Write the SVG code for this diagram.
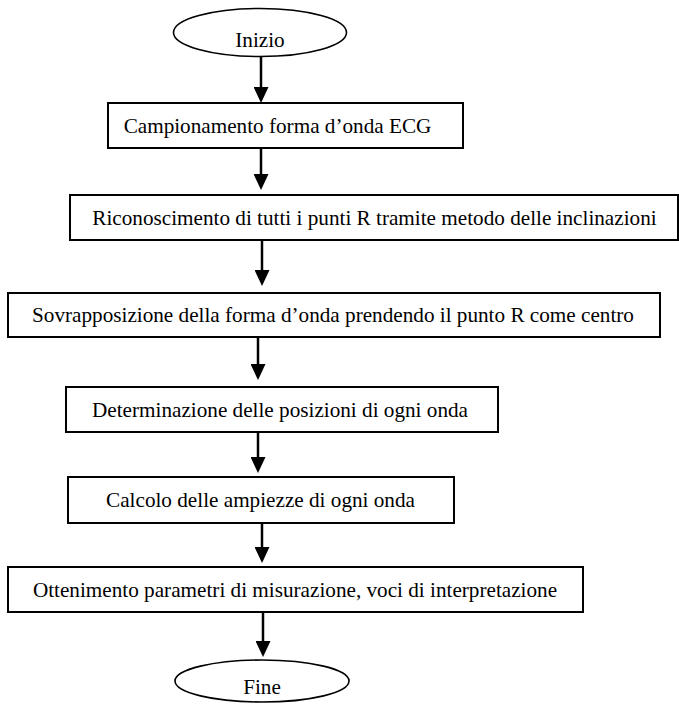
<svg xmlns="http://www.w3.org/2000/svg" width="679" height="704" viewBox="0 0 679 704">
<style>
.box{fill:#ffffff;stroke:#000000;stroke-width:2}
.term{fill:#ffffff;stroke:#000000;stroke-width:1.6}
.lbl{font-family:"Liberation Serif","Times New Roman",serif;font-size:21.2px;fill:#000000;text-anchor:middle}
.conn{stroke:#000000;stroke-width:2.5;fill:none;marker-end:url(#ah)}
</style>
<defs>
<marker id="ah" markerUnits="userSpaceOnUse" markerWidth="16" markerHeight="15" refX="12" refY="7.5" orient="auto">
<path d="M0,0 L16,7.5 L0,15 Z" fill="#000000"/>
</marker>
</defs>
<rect width="679" height="704" fill="#ffffff"/>
<g id="connectors">
<line class="conn" x1="261" y1="57" x2="261" y2="99"/>
<line class="conn" x1="261" y1="148" x2="261" y2="186"/>
<line class="conn" x1="262" y1="240" x2="262" y2="282"/>
<line class="conn" x1="258" y1="337" x2="258" y2="376"/>
<line class="conn" x1="258" y1="430" x2="258" y2="469"/>
<line class="conn" x1="262" y1="521" x2="262" y2="559"/>
<line class="conn" x1="263" y1="612" x2="263" y2="653"/>
</g>
<g id="start">
<ellipse class="term" cx="260" cy="32.5" rx="86.5" ry="24"/>
<text class="lbl" x="260" y="47">Inizio</text>
</g>
<g id="step1">
<rect class="box" x="108" y="103" width="355" height="45"/>
<text class="lbl" x="277.5" y="133">Campionamento forma d’onda ECG</text>
</g>
<g id="step2">
<rect class="box" x="70" y="195" width="608" height="45"/>
<text class="lbl" x="374.5" y="225">Riconoscimento di tutti i punti R tramite metodo delle inclinazioni</text>
</g>
<g id="step3">
<rect class="box" x="8" y="293" width="652" height="44"/>
<text class="lbl" x="333" y="322">Sovrapposizione della forma d’onda prendendo il punto R come centro</text>
</g>
<g id="step4">
<rect class="box" x="66" y="387" width="432" height="45"/>
<text class="lbl" x="280" y="417">Determinazione delle posizioni di ogni onda</text>
</g>
<g id="step5">
<rect class="box" x="68" y="477" width="386" height="46"/>
<text class="lbl" x="260.5" y="507">Calcolo delle ampiezze di ogni onda</text>
</g>
<g id="step6">
<rect class="box" x="8" y="567" width="575" height="45"/>
<text class="lbl" x="295" y="597">Ottenimento parametri di misurazione, voci di interpretazione</text>
</g>
<g id="end">
<ellipse class="term" cx="262" cy="681" rx="87" ry="21"/>
<text class="lbl" x="262" y="694">Fine</text>
</g>
</svg>
